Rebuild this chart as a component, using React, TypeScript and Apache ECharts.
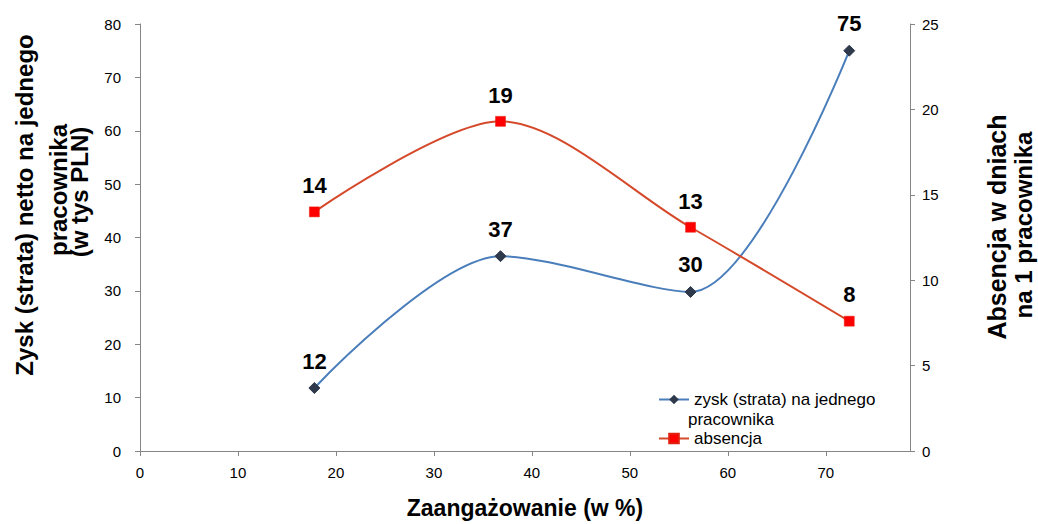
import React, { useEffect, useRef } from "react";
import * as echarts from "echarts";

const engagement = [17.8, 36.8, 56.2, 72.4];
const profit = [11.8, 36.5, 29.8, 75.0];
const absence = [14.0, 19.3, 13.1, 7.6];

const profitName = "zysk (strata) na jednego pracownika";
const absenceName = "absencja";
const xTitle = "Zaangażowanie (w %)";
const leftTitle = ["Zysk (strata) netto na jednego", "pracownika", "(w tys PLN)"];
const rightTitle = ["Absencja w dniach", "na 1 pracownika"];

const FONT = "'Liberation Sans', Arial, sans-serif";

export default function App() {
  const ref = useRef<HTMLDivElement>(null);
  useEffect(() => {
    if (!ref.current) return;
    const chart = echarts.init(ref.current, undefined, { renderer: "svg" });
    const axisLine = { show: true, lineStyle: { color: "#868686", width: 1 } };
    const axisTick = { show: true, length: 5, lineStyle: { color: "#868686" } };
    const labelStyle = { color: "#000", fontSize: 15, fontFamily: FONT };
    const dataLabel = {
      show: true,
      position: "top" as const,
      distance: 10,
      fontSize: 22,
      fontWeight: "bold" as const,
      color: "#000",
      fontFamily: FONT,
      formatter: (p: any) => String(Math.round(p.value[1])),
    };
    const titleStyle = (text: string, size: number) => ({
      text,
      fontSize: size,
      fontWeight: "bold",
      fill: "#000",
      fontFamily: FONT,
      align: "center",
      verticalAlign: "middle",
    });
    chart.setOption({
      animation: false,
      backgroundColor: "#fff",
      textStyle: { fontFamily: FONT },
      grid: { left: 140, right: 128, top: 24, bottom: 72, containLabel: false },
      xAxis: {
        type: "value",
        min: 0,
        max: 78.6,
        interval: 10,
        name: xTitle,
        nameLocation: "middle",
        nameGap: 45,
        nameTextStyle: { fontSize: 23, fontWeight: "bold", color: "#000", fontFamily: FONT },
        axisLine,
        axisTick,
        splitLine: { show: false },
        axisLabel: { ...labelStyle, margin: 14, showMaxLabel: false },
      },
      yAxis: [
        {
          type: "value",
          min: 0,
          max: 80,
          interval: 10,
          axisLine,
          axisTick,
          splitLine: { show: false },
          axisLabel: { ...labelStyle, margin: 19 },
        },
        {
          type: "value",
          min: 0,
          max: 25,
          interval: 5,
          position: "right",
          axisLine,
          axisTick,
          splitLine: { show: false },
          axisLabel: { ...labelStyle, margin: 12 },
        },
      ],
      legend: [
        {
          data: [profitName],
          left: 653,
          top: 386,
          itemWidth: 30,
          itemHeight: 12,
          formatter: () => "zysk (strata) na jednego",
          textStyle: { fontSize: 17, color: "#000", fontFamily: FONT },
        },
        {
          data: [absenceName],
          left: 653,
          top: 425,
          itemWidth: 30,
          itemHeight: 12,
          textStyle: { fontSize: 17, color: "#000", fontFamily: FONT },
        },
      ],
      graphic: [
        {
          type: "text",
          left: 688,
          top: 411,
          style: { text: "pracownika", fontSize: 17, fill: "#000", fontFamily: FONT },
        },
        { type: "text", x: 24, y: 205, rotation: Math.PI / 2, style: titleStyle(leftTitle[0], 24) },
        { type: "text", x: 58, y: 190, rotation: Math.PI / 2, style: titleStyle(leftTitle[1], 24) },
        { type: "text", x: 79, y: 192, rotation: Math.PI / 2, style: titleStyle(leftTitle[2], 24) },
        { type: "text", x: 997, y: 227, rotation: Math.PI / 2, style: titleStyle(rightTitle[0], 25) },
        { type: "text", x: 1023, y: 225, rotation: Math.PI / 2, style: titleStyle(rightTitle[1], 24) },
      ],
      series: [
        {
          name: profitName,
          type: "line",
          yAxisIndex: 0,
          smooth: 0.3,
          symbol: "diamond",
          symbolSize: 11,
          lineStyle: { color: "#4A7EBB", width: 2 },
          itemStyle: { color: "#2E3A4C", borderColor: "#2E3A4C" },
          label: dataLabel,
          data: engagement.map((x, i) => [x, profit[i]]),
        },
        {
          name: absenceName,
          type: "line",
          yAxisIndex: 1,
          smooth: 0.3,
          symbol: "rect",
          symbolSize: 10,
          lineStyle: { color: "#D5492B", width: 2 },
          itemStyle: { color: "#FF0000", borderColor: "#E02010", borderWidth: 0.5 },
          label: dataLabel,
          data: engagement.map((x, i) => [x, absence[i]]),
        },
      ],
    });
    return () => chart.dispose();
  }, []);
  return <div ref={ref} style={{ width: 1038, height: 524, position: "absolute", left: 0, top: 0 }} />;
}
